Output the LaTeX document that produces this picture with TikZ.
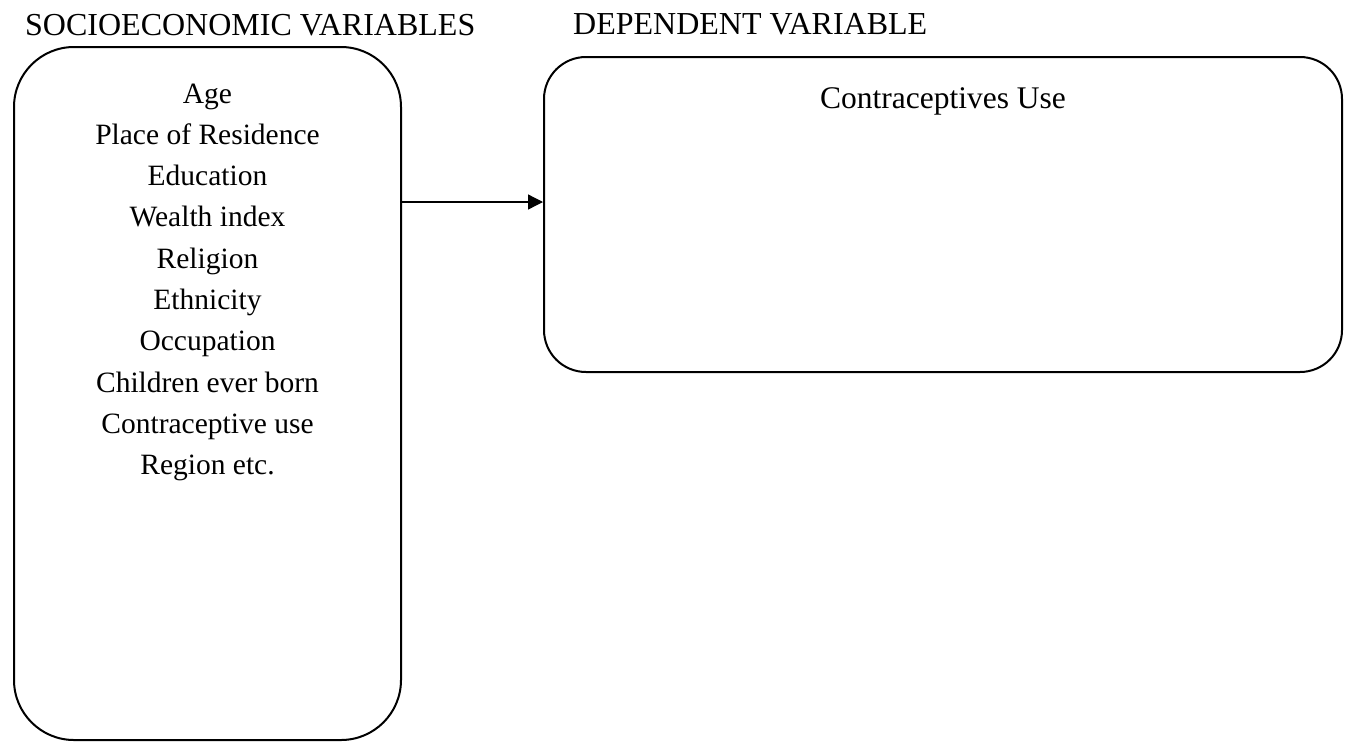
\documentclass[tikz,border=0pt]{standalone}
\usepackage{fontspec}
\setmainfont{Liberation Serif}
\usetikzlibrary{arrows.meta}
\begin{document}
\begin{tikzpicture}[x=1pt,y=-1pt,
  box/.style={draw, line width=2pt, inner sep=0pt},
  txt/.style={font=\fontsize{29.5}{36}\selectfont, inner sep=0pt, anchor=base},
  head/.style={font=\fontsize{32}{38}\selectfont, inner sep=0pt, anchor=base west},
  conn/.style={line width=1.3pt, -{Triangle[length=15pt,width=15pt]}}]
\useasboundingbox (0,0) rectangle (1351,742);
\fill[white] (0,0) rectangle (1351,742);
\node[head] (h1) at (25,35) {SOCIOECONOMIC VARIABLES};
\node[head] (h2) at (573,34) {DEPENDENT VARIABLE};
\node[box, rounded corners=60pt, minimum width=387pt, minimum height=693pt] (soc) at (207.5,393.5) {};
\node[box, rounded corners=42pt, minimum width=798pt, minimum height=315pt] (dep) at (943,214.5) {};
\node[txt, font=\fontsize{31.5}{38}\selectfont] (cu) at (943,108) {Contraceptives Use};
\foreach \t [count=\i] in {Age, Place of Residence, Education, Wealth index, Religion, Ethnicity, Occupation, Children ever born, Contraceptive use, Region etc.}
  \node[txt] (l\i) at (207.5, {103+41.3*(\i-1)}) {\t};
\coordinate (ay) at (0,202);
\draw[conn] (soc.east |- ay) -- (dep.west |- ay);
\end{tikzpicture}
\end{document}
